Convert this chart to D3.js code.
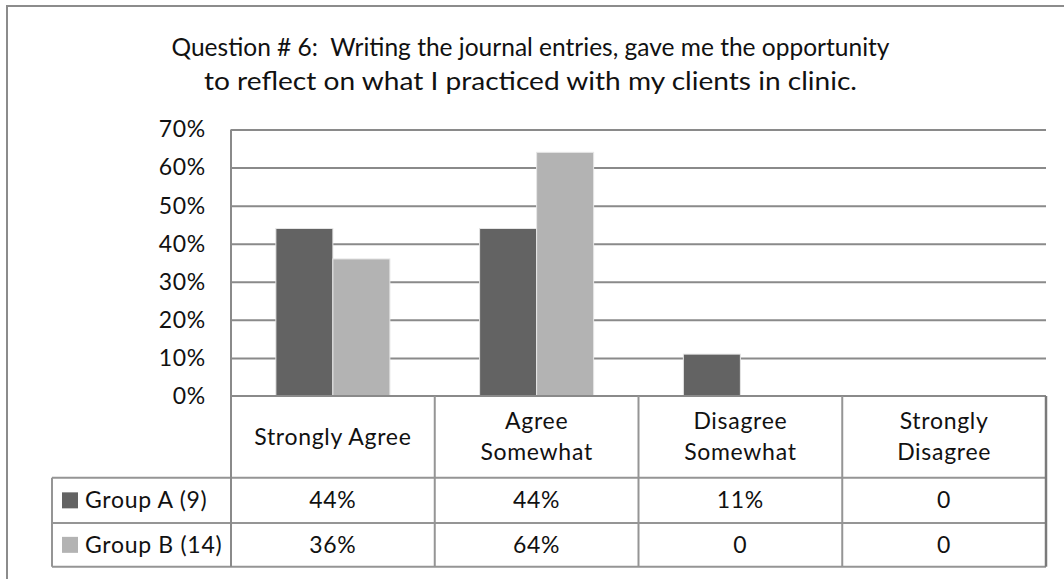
<!DOCTYPE html>
<html>
<head>
<meta charset="utf-8">
<script src="https://cdn.jsdelivr.net/npm/d3@7"></script>
<style>
  html, body { margin: 0; padding: 0; background: #fff; }
  svg { display: block; }
  text { font-family: Lato, "Open Sans", sans-serif; fill: #111; }
</style>
</head>
<body>
<svg id="chart" width="1064" height="579"></svg>
<script>
// Survey responses, share of each group per answer
const categories = [["Strongly Agree"], ["Agree", "Somewhat"], ["Disagree", "Somewhat"], ["Strongly", "Disagree"]];
const categoryKeys = ["Strongly Agree", "Agree Somewhat", "Disagree Somewhat", "Strongly Disagree"];
const seriesNames = ["Group A (9)", "Group B (14)"];
const groupA = [0.44, 0.44, 0.11, 0];
const groupB = [0.36, 0.64, 0, 0];
const tableA = ["44%", "44%", "11%", "0"];
const tableB = ["36%", "64%", "0", "0"];
const yTicks = [0, 0.1, 0.2, 0.3, 0.4, 0.5, 0.6, 0.7];
const titleLines = [
  "Question # 6:  Writing the journal entries, gave me the opportunity",
  "to reflect on what I practiced with my clients in clinic."
];

const colors = ["#636363", "#b3b3b3"];
const gridColor = "#8a8a8a";
const lineColor = "#959595";
const fs = 23;
const ls = "0.7px";

const svg = d3.select("#chart");

// Outer chart frame (only left and top edges fall inside the view)
svg.append("rect")
  .attr("x", 7).attr("y", 6)
  .attr("width", 1100).attr("height", 620)
  .attr("fill", "none").attr("stroke", "#8c8c8c").attr("stroke-width", 2);

const plot = { left: 231, right: 1046, top: 129.5, bottom: 396 };

const x = d3.scaleBand().domain(categoryKeys).range([plot.left, plot.right]);
const x1 = d3.scaleBand().domain(seriesNames).range([0, x.bandwidth()]).paddingInner(0).paddingOuter(0.787);
const y = d3.scaleLinear().domain([0, 0.7]).range([plot.bottom, plot.top]);

// Title (two centred lines, spacing kept as written)
const title = svg.append("g");
const titleWidths = [718, 653];
const titleBaselines = [56, 90];
titleLines.forEach((t, i) => {
  title.append("text")
    .attr("x", 530.5).attr("y", titleBaselines[i])
    .attr("text-anchor", "middle")
    .attr("font-size", 24.5)
    .attr("textLength", titleWidths[i])
    .attr("lengthAdjust", "spacingAndGlyphs")
    .style("white-space", "pre")
    .text(t);
});

// Gridlines
svg.append("g")
  .attr("transform", `translate(${plot.left},0)`)
  .call(d3.axisLeft(y).tickValues(yTicks.slice(1)).tickSize(-(plot.right - plot.left)).tickFormat(""))
  .call(g => g.select(".domain").remove())
  .call(g => g.selectAll(".tick line").attr("stroke", gridColor).attr("stroke-width", 2));

// Y axis labels
svg.append("g")
  .attr("transform", `translate(${plot.left},0)`)
  .call(d3.axisLeft(y).tickValues(yTicks).tickSize(0).tickPadding(25).tickFormat(d3.format(".0%")))
  .call(g => g.select(".domain").remove())
  .call(g => g.selectAll(".tick text").attr("font-size", fs).attr("fill", "#111")
    .style("letter-spacing", ls)
    .style("font-family", "Lato, 'Open Sans', sans-serif"));

// Bars
const seriesData = [groupA, groupB];
const barG = svg.append("g");
seriesData.forEach((vals, si) => {
  barG.selectAll(null)
    .data(vals.map((v, i) => ({ v, k: categoryKeys[i] })).filter(d => d.v > 0))
    .join("rect")
    .attr("x", d => x(d.k) + x1(seriesNames[si]))
    .attr("y", d => y(d.v))
    .attr("width", x1.bandwidth())
    .attr("height", d => y(0) - y(d.v))
    .attr("fill", colors[si])
    .attr("stroke", "#e6e6e6")
    .attr("stroke-width", 1);
});

// Data table below the plot
const rowTops = [plot.bottom, 477.7, 523, 566.7];
const legendLeft = 52;
const tbl = svg.append("g").attr("stroke", lineColor).attr("stroke-width", 2).attr("fill", "none");

// Horizontal rules
tbl.append("line").attr("x1", plot.left).attr("x2", plot.right).attr("y1", rowTops[0]).attr("y2", rowTops[0]).attr("stroke", gridColor);
[1, 2, 3].forEach(r => {
  tbl.append("line").attr("x1", legendLeft).attr("x2", plot.right).attr("y1", rowTops[r]).attr("y2", rowTops[r]);
});
// Vertical rules
tbl.append("line").attr("x1", legendLeft).attr("x2", legendLeft).attr("y1", rowTops[1]).attr("y2", rowTops[3]);
tbl.append("line").attr("x1", plot.left).attr("x2", plot.left).attr("y1", plot.top).attr("y2", rowTops[3]).attr("stroke", gridColor);
categoryKeys.slice(1).forEach(k => {
  tbl.append("line").attr("x1", x(k)).attr("x2", x(k)).attr("y1", rowTops[0]).attr("y2", rowTops[3]);
});
tbl.append("line").attr("x1", plot.right).attr("x2", plot.right).attr("y1", rowTops[0]).attr("y2", rowTops[3]).attr("stroke", "#7a7a7a").attr("stroke-width", 2.5);

// Header labels
categories.forEach((lines, i) => {
  const cx = x(categoryKeys[i]) + x.bandwidth() / 2;
  const mid = (rowTops[0] + rowTops[1]) / 2;
  lines.forEach((t, li) => {
    svg.append("text")
      .attr("x", cx)
      .attr("y", mid + (li - (lines.length - 1) / 2) * 31)
      .attr("dy", "0.35em")
      .attr("text-anchor", "middle")
      .attr("font-size", fs)
      .style("letter-spacing", ls)
      .text(t);
  });
});

// Value rows
[tableA, tableB].forEach((row, r) => {
  const cy = (rowTops[r + 1] + rowTops[r + 2]) / 2;
  row.forEach((t, i) => {
    svg.append("text")
      .attr("x", x(categoryKeys[i]) + x.bandwidth() / 2)
      .attr("y", cy).attr("dy", "0.35em")
      .attr("text-anchor", "middle")
      .attr("font-size", fs)
      .style("letter-spacing", ls)
      .text(t);
  });
  // Legend key and series name
  svg.append("rect")
    .attr("x", 62).attr("y", cy - 8)
    .attr("width", 16).attr("height", 16)
    .attr("fill", colors[r]);
  svg.append("text")
    .attr("x", 85).attr("y", cy).attr("dy", "0.35em")
    .attr("font-size", fs)
    .style("letter-spacing", ls)
    .text(seriesNames[r]);
});
</script>
</body>
</html>
